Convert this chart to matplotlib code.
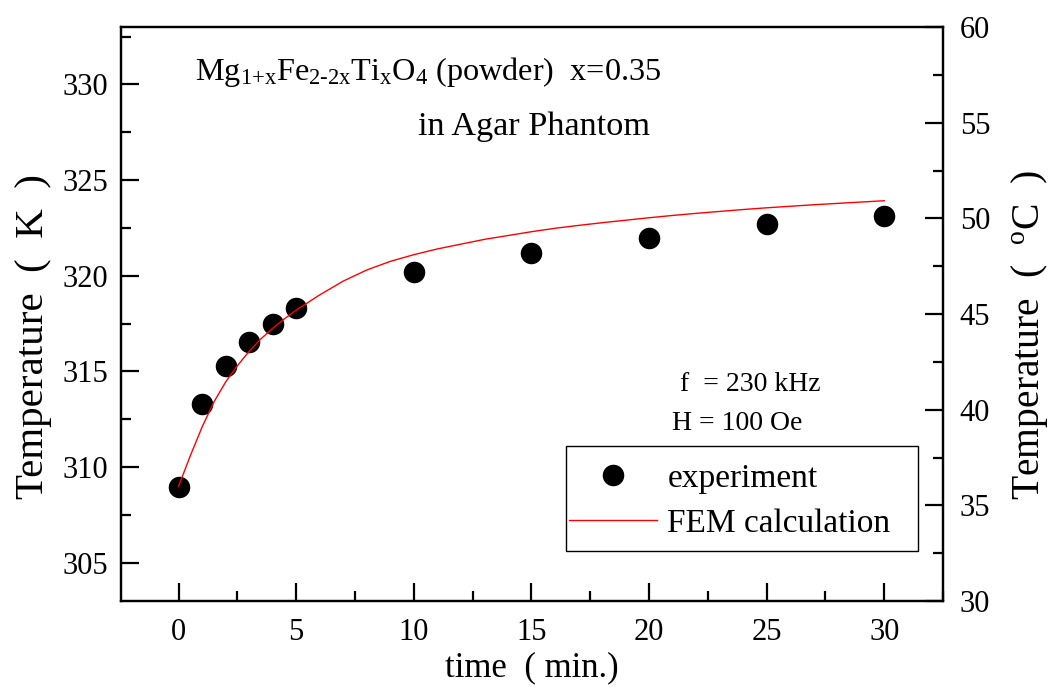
import matplotlib
matplotlib.use("Agg")
import matplotlib.pyplot as plt
from matplotlib.ticker import MultipleLocator
from matplotlib.patches import Rectangle

plt.rcParams['font.family'] = ['Liberation Serif', 'DejaVu Serif']
plt.rcParams['mathtext.fontset'] = 'custom'
plt.rcParams['mathtext.rm'] = 'Liberation Serif'
plt.rcParams['mathtext.it'] = 'Liberation Serif'

# measured temperatures (K)
exp_time = [0, 1, 2, 3, 4, 5, 10, 15, 20, 25, 30]
exp_temp = [308.95, 313.3, 315.3, 316.55, 317.5, 318.3, 320.2, 321.2, 321.95, 322.7, 323.1]

# FEM simulation curve (K)
fem_time = [0, 0.5, 1, 1.5, 2, 2.5, 3, 3.5, 4, 4.5, 5, 5.5, 6, 7, 8, 9, 10,
            11, 12, 13, 14, 15, 16, 17, 18, 19, 20, 21, 22, 23, 24, 25,
            26, 27, 28, 29, 30]
fem_temp = [309.0, 310.6, 312.1, 313.4, 314.45, 315.3, 316.05, 316.7, 317.25, 317.75,
            318.2, 318.6, 319.0, 319.72, 320.3, 320.75, 321.1,
            321.4, 321.65, 321.9, 322.1, 322.3, 322.48, 322.63, 322.77, 322.9, 323.03,
            323.15, 323.26, 323.36, 323.46, 323.55, 323.63, 323.71, 323.78, 323.85, 323.92]

x_ticks = [0, 5, 10, 15, 20, 25, 30]
k_ticks = [305, 310, 315, 320, 325, 330]
c_ticks = [30, 35, 40, 45, 50, 55, 60]

fig = plt.figure(figsize=(10.5, 6.91), dpi=100)
ax = fig.add_axes([121/1050, 1 - 601/691, 822/1050, 574/691])

ax.plot(fem_time, fem_temp, color='red', lw=1.0, label='FEM calculation', zorder=3)
ax.plot(exp_time, exp_temp, 'o', color='black', ms=14.5, label='experiment', zorder=2)

ax.set_xlim(-2.45, 32.5)
ax.set_ylim(303, 333)
ax.set_xticks(x_ticks)
ax.set_yticks(k_ticks)
ax.xaxis.set_minor_locator(MultipleLocator(2.5))
ax.yaxis.set_minor_locator(MultipleLocator(2.5))

for s in ax.spines.values():
    s.set_linewidth(1.6)

ax.tick_params(which='both', direction='in', top=False, right=False, width=1.6,
               labelsize=22)
ax.tick_params(which='major', length=13)
ax.tick_params(which='minor', length=7)
ax.tick_params(axis='x', pad=12)
ax.tick_params(axis='y', pad=9)

ax.set_xlabel('time  ( min.)', fontsize=25, labelpad=3)
ax.set_ylabel('Temperature  (  K  )', fontsize=29.5)
ax.yaxis.set_label_coords(-0.084, 0.46)

ax2 = ax.twinx()
ax2.set_ylim(30, 60)
ax2.set_yticks(c_ticks)
ax2.yaxis.set_minor_locator(MultipleLocator(2.5))
for s in ax2.spines.values():
    s.set_linewidth(1.6)
ax2.tick_params(which='both', direction='in', width=1.6, labelsize=22, pad=12)
ax2.tick_params(which='major', length=13)
ax2.tick_params(which='minor', length=7)
ax2.set_ylabel('Temperature  (  $^{\\mathrm{o}}$C  )', fontsize=28.5)
ax2.yaxis.set_label_coords(1.0805, 0.463)

ax.text(0.090, 0.9216,
        'Mg$_{\\mathrm{1{+}x}}$Fe$_{\\mathrm{2\u20102x}}$Ti$_{\\mathrm{x}}$O$_{\\mathrm{4}}$ (powder)  x=0.35',
        transform=ax.transAxes, fontsize=23.2, va='center', ha='left')
ax.text(0.3613, 0.826, 'in Agar Phantom', transform=ax.transAxes,
        fontsize=24.7, va='center', ha='left')
ax.text(0.680, 0.378, 'f  = 230 kHz', transform=ax.transAxes,
        fontsize=20, va='center', ha='left')
ax.text(0.670, 0.310, 'H = 100 Oe', transform=ax.transAxes,
        fontsize=20, va='center', ha='left')

# legend box drawn separately so its padding can be uneven
ax.add_patch(Rectangle((0.5414, 0.0871), 0.9696 - 0.5414, 0.270 - 0.0871,
                       transform=ax.transAxes, fill=False, edgecolor='black',
                       lw=1.0, zorder=5))
handles, labels = ax.get_legend_handles_labels()
leg = ax.legend(handles[::-1], labels[::-1], loc='center left',
                bbox_to_anchor=(0.545, 0.174), borderaxespad=0,
                fontsize=24, frameon=False, borderpad=0,
                handlelength=2.65, handletextpad=0.3, labelspacing=0.42)

fig.savefig('out.png', dpi=100)
